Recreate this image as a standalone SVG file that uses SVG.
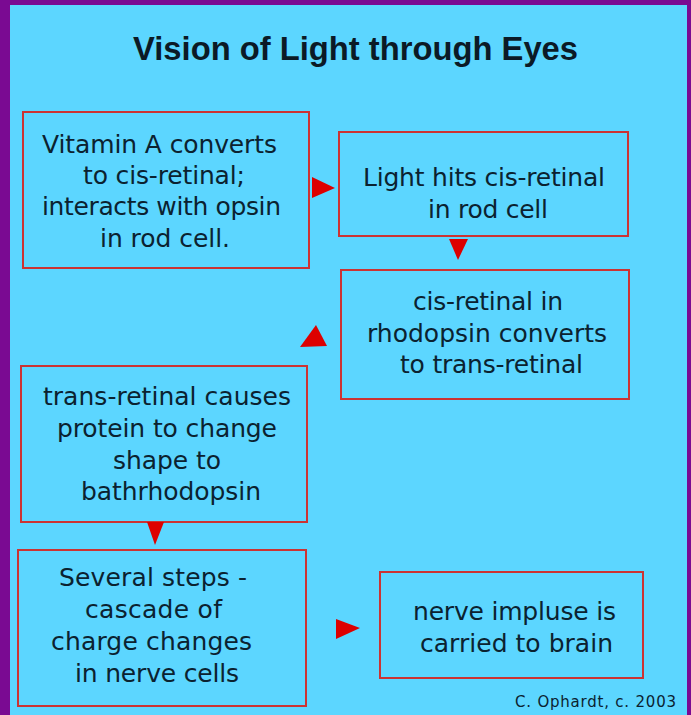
<svg xmlns="http://www.w3.org/2000/svg" width="691" height="715" viewBox="0 0 691 715">
  <style>
    .box { fill: none; stroke: #CC3333; stroke-width: 2; }
    .t { font-family: "DejaVu Sans", "Liberation Sans", sans-serif; font-size: 25px; fill: #0B2230; lengthAdjust: spacing; }
    .title { font-family: "Liberation Sans", Arial, sans-serif; font-size: 33px; font-weight: bold; fill: #0B1A26; }
    .credit { font-family: "DejaVu Sans", "Liberation Sans", sans-serif; font-size: 15px; fill: #0B2230; }
    .arrow { fill: #DD0000; }
  </style>
  <rect x="0" y="0" width="691" height="715" fill="#7A0A92"/>
  <rect x="10" y="5" width="677" height="710" fill="#5CD6FF"/>
  <text class="title" x="355.5" y="60" text-anchor="middle" textLength="445" lengthAdjust="spacingAndGlyphs">Vision of Light through Eyes</text>

  <g id="node-vitamin">
    <rect class="box" x="23" y="112" width="286" height="156"/>
    <text class="t" x="42" y="153" textLength="235" lengthAdjust="spacing">Vitamin A converts</text>
    <text class="t" x="83" y="184" textLength="162" lengthAdjust="spacing">to cis-retinal;</text>
    <text class="t" x="42" y="215" textLength="239" lengthAdjust="spacing">interacts with opsin</text>
    <text class="t" x="100" y="247" textLength="130" lengthAdjust="spacing">in rod cell.</text>
  </g>

  <g id="node-light">
    <rect class="box" x="339" y="132" width="289" height="104"/>
    <text class="t" x="363" y="186" textLength="242" lengthAdjust="spacing">Light hits cis-retinal</text>
    <text class="t" x="428" y="218" textLength="120" lengthAdjust="spacing">in rod cell</text>
  </g>

  <g id="node-rhodopsin">
    <rect class="box" x="341" y="270" width="288" height="129"/>
    <text class="t" x="413" y="310" textLength="150" lengthAdjust="spacing">cis-retinal in</text>
    <text class="t" x="367" y="342" textLength="240" lengthAdjust="spacing">rhodopsin converts</text>
    <text class="t" x="400" y="373" textLength="183" lengthAdjust="spacing">to trans-retinal</text>
  </g>

  <g id="node-bathrhodopsin">
    <rect class="box" x="21" y="366" width="286" height="156"/>
    <text class="t" x="43" y="405" textLength="248" lengthAdjust="spacing">trans-retinal causes</text>
    <text class="t" x="57" y="437" textLength="220" lengthAdjust="spacing">protein to change</text>
    <text class="t" x="113" y="469" textLength="108" lengthAdjust="spacing">shape to</text>
    <text class="t" x="81" y="500" textLength="180" lengthAdjust="spacing">bathrhodopsin</text>
  </g>

  <g id="node-cascade">
    <rect class="box" x="18" y="550" width="288" height="156"/>
    <text class="t" x="59" y="586" textLength="188" lengthAdjust="spacing">Several steps -</text>
    <text class="t" x="85" y="618" textLength="137" lengthAdjust="spacing">cascade of</text>
    <text class="t" x="51" y="650" textLength="201" lengthAdjust="spacing">charge changes</text>
    <text class="t" x="75" y="682" textLength="164" lengthAdjust="spacing">in nerve cells</text>
  </g>

  <g id="node-brain">
    <rect class="box" x="380" y="572" width="263" height="106"/>
    <text class="t" x="413" y="620" textLength="203" lengthAdjust="spacing">nerve impluse is</text>
    <text class="t" x="420" y="652" textLength="193" lengthAdjust="spacing">carried to brain</text>
  </g>

  <g id="connectors">
    <polygon class="arrow" points="312,177 312,198 335,188"/>
    <polygon class="arrow" points="449,239 468,239 458,260"/>
    <polygon class="arrow" points="316,325 300,347 327,346"/>
    <polygon class="arrow" points="147,522 164,522 155,545"/>
    <polygon class="arrow" points="336,619 336,639 360,628"/>
  </g>

  <text class="credit" x="515" y="707" textLength="161" lengthAdjust="spacing">C. Ophardt, c. 2003</text>
</svg>
